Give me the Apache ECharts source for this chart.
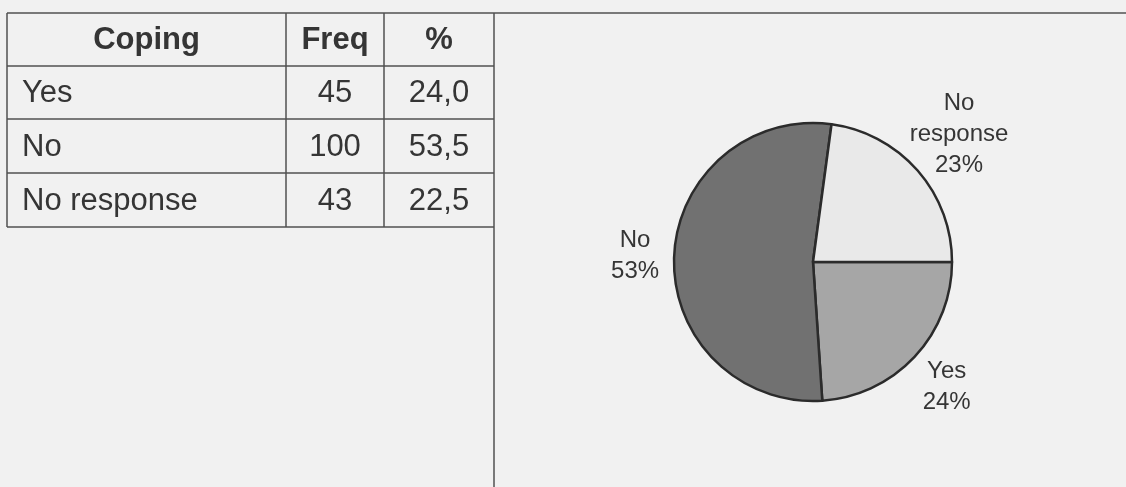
<!DOCTYPE html>
<html>
<head>
<meta charset="utf-8">
<script src="https://cdn.jsdelivr.net/npm/echarts@6/dist/echarts.min.js"></script>
<style>
html,body{margin:0;padding:0;background:#f1f1f1;}
#chart{width:1126px;height:487px;}
</style>
</head>
<body>
<div id="chart"></div>
<script>
// ---- data ----
const tableHeaders = ["Coping", "Freq", "%"];
const categories = ["Yes", "No", "No response"];
const freqValues = [45, 100, 43];
const percentLabels = ["24,0", "53,5", "22,5"];

// ---- styles (kept apart from data) ----
const sliceColors = { "Yes": "#a6a6a6", "No": "#717171", "No response": "#e9e9e9" };
const labelGap = { "Yes": 44, "No": 39, "No response": 55 };

const colX = [7, 286, 384, 494];
const rowY = [13, 66, 119, 173, 227];
const lineColor = "#505050";
const textColor = "#353535";
const font = "'Liberation Sans', Arial, sans-serif";

const chart = echarts.init(document.getElementById('chart'));

// Build table graphics from arrays
const g = [];
rowY.forEach((y, i) => {
  g.push({ type: 'line', shape: { x1: colX[0], y1: y, x2: i === 0 ? 1126 : colX[3], y2: y },
    style: { stroke: lineColor, lineWidth: 1.5 }, silent: true });
});
colX.forEach((x, i) => {
  g.push({ type: 'line', shape: { x1: x, y1: rowY[0], x2: x, y2: i === 3 ? 487 : rowY[rowY.length - 1] },
    style: { stroke: lineColor, lineWidth: 1.5 }, silent: true });
});
tableHeaders.forEach((h, i) => {
  g.push({ type: 'text', x: (colX[i] + colX[i + 1]) / 2, y: (rowY[0] + rowY[1]) / 2 + 1,
    style: { text: h, fill: textColor, font: "bold 31px " + font, textAlign: 'center', textVerticalAlign: 'middle' } });
});
categories.forEach((c, r) => {
  const cy = (rowY[r + 1] + rowY[r + 2]) / 2 + 1;
  g.push({ type: 'text', x: colX[0] + 15, y: cy,
    style: { text: c, fill: textColor, font: "31px " + font, textAlign: 'left', textVerticalAlign: 'middle' } });
  g.push({ type: 'text', x: (colX[1] + colX[2]) / 2, y: cy,
    style: { text: String(freqValues[r]), fill: textColor, font: "31px " + font, textAlign: 'center', textVerticalAlign: 'middle' } });
  g.push({ type: 'text', x: (colX[2] + colX[3]) / 2, y: cy,
    style: { text: percentLabels[r], fill: textColor, font: "31px " + font, textAlign: 'center', textVerticalAlign: 'middle' } });
});

chart.setOption({
  backgroundColor: '#f1f1f1',
  animation: false,
  graphic: g,
  series: [{
    type: 'pie',
    center: [813, 262],
    radius: 139,
    startAngle: 0,
    clockwise: true,
    avoidLabelOverlap: false,
    data: categories.map((c, i) => ({
      name: c, value: freqValues[i],
      itemStyle: { color: sliceColors[c] }
    })),
    itemStyle: { borderColor: '#2b2b2b', borderWidth: 2.5 },
    label: {
      show: true,
      position: 'outside',
      formatter: p => p.name.replace(' ', '\n') + '\n' + Math.round(p.percent) + '%',
      color: textColor,
      fontFamily: font,
      fontSize: 24,
      lineHeight: 31,
      align: 'center'
    },
    labelLine: { show: true, length: 20, length2: 0, lineStyle: { opacity: 0 } },
    labelLayout: function (p) {
      const pts = p.labelLinePoints;
      if (!pts) return {};
      const dx = pts[1][0] - pts[0][0], dy = pts[1][1] - pts[0][1];
      const len = Math.sqrt(dx * dx + dy * dy) || 1;
      const name = categories[p.dataIndex];
      const gap = labelGap[name];
      return {
        x: pts[0][0] + dx / len * gap,
        y: pts[0][1] + dy / len * gap,
        align: 'center',
        verticalAlign: 'middle'
      };
    },
    emphasis: { disabled: true }
  }]
});
</script>
</body>
</html>
